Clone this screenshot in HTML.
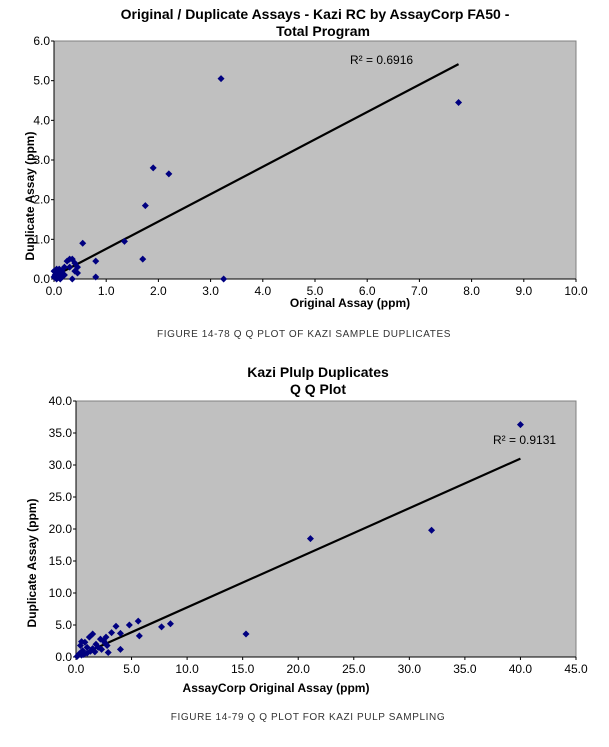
<!DOCTYPE html>
<html><head><meta charset="utf-8"><style>
body{margin:0;background:#fff;width:609px;height:742px;overflow:hidden;font-family:"Liberation Sans",sans-serif}
svg text{font-family:"Liberation Sans",sans-serif}
</style></head><body>
<svg id="s" width="609" height="742">
<g id="c1">
<text x="315" y="19" text-anchor="middle" font-size="14" font-weight="bold">Original / Duplicate Assays - Kazi RC by AssayCorp FA50 -</text>
<text x="323" y="36" text-anchor="middle" font-size="14" font-weight="bold">Total Program</text>
</g>
<g id="c2">
<text x="318" y="377" text-anchor="middle" font-size="14" font-weight="bold">Kazi Plulp Duplicates</text>
<text x="318" y="394" text-anchor="middle" font-size="14" font-weight="bold">Q Q Plot</text>
</g>
<text x="304" y="337" text-anchor="middle" font-size="10" fill="#333" letter-spacing="0.6">FIGURE 14-78 Q Q PLOT OF KAZI SAMPLE DUPLICATES</text>
<text x="308" y="720" text-anchor="middle" font-size="10" fill="#333" letter-spacing="0.6">FIGURE 14-79 Q Q PLOT FOR KAZI PULP SAMPLING</text>
</svg>
<script>
// Chart 1 data
const c1X=[3.2,7.75,1.9,2.2,1.75,1.35,0.55,1.7,0.8,0.8,3.25,0.3,0.35,0.4,0.25,0.45,0.4,0.35,0.05,0.1,0.15,0.2,0.0,0.02,0.05,0.1,0.08,0.15,0.2,0.3,0.45,0.0,0.12];
const c1Y=[5.05,4.45,2.8,2.65,1.85,0.95,0.9,0.5,0.45,0.05,0.0,0.5,0.5,0.4,0.45,0.3,0.2,0.0,0.25,0.25,0.2,0.3,0.05,0.1,0.0,0.1,0.15,0.05,0.1,0.3,0.15,0.2,0.0];
const c1XTicks=["0.0","1.0","2.0","3.0","4.0","5.0","6.0","7.0","8.0","9.0","10.0"];
const c1YTicks=["0.0","1.0","2.0","3.0","4.0","5.0","6.0"];
const c1Trend=[0.69,0.07,0,7.75];
// Chart 2 data
const c2X=[40,32,21.1,15.3,8.5,7.7,5.6,5.7,4.8,4.0,3.6,4.0,3.2,2.9,2.7,1.5,1.2,0.5,0.8,2.2,2.5,1.8,2.0,2.8,1.5,1.0,0.6,0.3,0.1,0.2,0.5,1.0,1.3,2.3,0.7,1.7,0.4,2.6];
const c2Y=[36.3,19.8,18.5,3.6,5.2,4.7,5.6,3.3,5.0,3.7,4.8,1.2,3.8,0.7,3.1,3.6,3.1,2.4,2.3,2.8,2.5,2.0,1.5,1.8,1.3,1.5,1.0,0.5,0.1,0.3,0.3,0.6,0.9,1.2,0.4,0.8,1.8,2.2];
const c2XTicks=["0.0","5.0","10.0","15.0","20.0","25.0","30.0","35.0","40.0","45.0"];
const c2YTicks=["0.0","5.0","10.0","15.0","20.0","25.0","30.0","35.0","40.0"];
const c2Trend=[0.775,0,0,40];
const NS="http://www.w3.org/2000/svg";
function mk(p,t,a){const e=document.createElementNS(NS,t);for(const k in a)e.setAttribute(k,a[k]);p.appendChild(e);return e;}
function draw(g,o){
  const sx=v=>o.x0+(v-0)/o.xmax*(o.x1-o.x0), sy=v=>o.y0-(v/o.ymax)*(o.y0-o.y1);
  const r=mk(g,'rect',{x:o.x0,y:o.y1,width:o.x1-o.x0,height:o.y0-o.y1,fill:'#c0c0c0',stroke:'#808080','stroke-width':1});
  
  
  o.xt.forEach((t,i)=>{const v=parseFloat(t);
    const tx=mk(g,'text',{x:sx(v),y:o.y0+16,'text-anchor':'middle','font-size':12});tx.textContent=t;
    
    
    mk(g,'line',{x1:sx(v),x2:sx(v),y1:o.y0,y2:o.y0+3,stroke:'#000'});});
  o.yt.forEach((t,i)=>{const v=parseFloat(t);
    const ty=mk(g,'text',{x:o.x0-4,y:sy(v)+4,'text-anchor':'end','font-size':12});ty.textContent=t;
    
    
    mk(g,'line',{x1:o.x0-3,x2:o.x0,y1:sy(v),y2:sy(v),stroke:'#000'});});
  mk(g,'line',{x1:o.x0,x2:o.x1,y1:o.y0,y2:o.y0,stroke:'#000'});
  mk(g,'line',{x1:o.x0,x2:o.x0,y1:o.y0,y2:o.y1,stroke:'#000'});
  const [m,b,a0,a1]=o.tr;
  const ln=mk(g,'line',{x1:sx(a0),y1:sy(m*a0+b),x2:sx(a1),y2:sy(m*a1+b),stroke:'#000','stroke-width':2.2});
  
  
  o.X.forEach((x,i)=>{const cx=sx(x),cy=sy(o.Y[i]);
    const p=mk(g,'polygon',{points:`${cx},${cy-3.5} ${cx+3.5},${cy} ${cx},${cy+3.5} ${cx-3.5},${cy}`,fill:'#000080'});
    
    });
  const rt=mk(g,'text',{x:o.rx,y:o.ry,'font-size':12});rt.textContent=o.r2;
  
  
  const xl=mk(g,'text',{x:o.xlx,y:o.xly,'text-anchor':'middle','font-size':12,'font-weight':'bold'});xl.textContent=o.xl;
  
  
  const yl=mk(g,'text',{x:0,y:0,'text-anchor':'middle','font-size':12,'font-weight':'bold',transform:`translate(${o.ylx},${o.yly}) rotate(-90)`});yl.textContent=o.yl;
  
  
}
draw(document.getElementById('c1'),{x0:54,x1:576,y0:279,y1:41,xmax:10,ymax:6,xt:c1XTicks,yt:c1YTicks,X:c1X,Y:c1Y,tr:c1Trend,r2:"R² = 0.6916",rx:350,ry:64,xl:"Original Assay (ppm)",xlx:350,xly:307,yl:"Duplicate Assay (ppm)",ylx:34,yly:196});
draw(document.getElementById('c2'),{x0:76,x1:576,y0:657,y1:401,xmax:45,ymax:40,xt:c2XTicks,yt:c2YTicks,X:c2X,Y:c2Y,tr:c2Trend,r2:"R² = 0.9131",rx:493,ry:444,xl:"AssayCorp Original Assay (ppm)",xlx:276,xly:692,yl:"Duplicate Assay (ppm)",ylx:36,yly:563});
</script>
</body></html>
